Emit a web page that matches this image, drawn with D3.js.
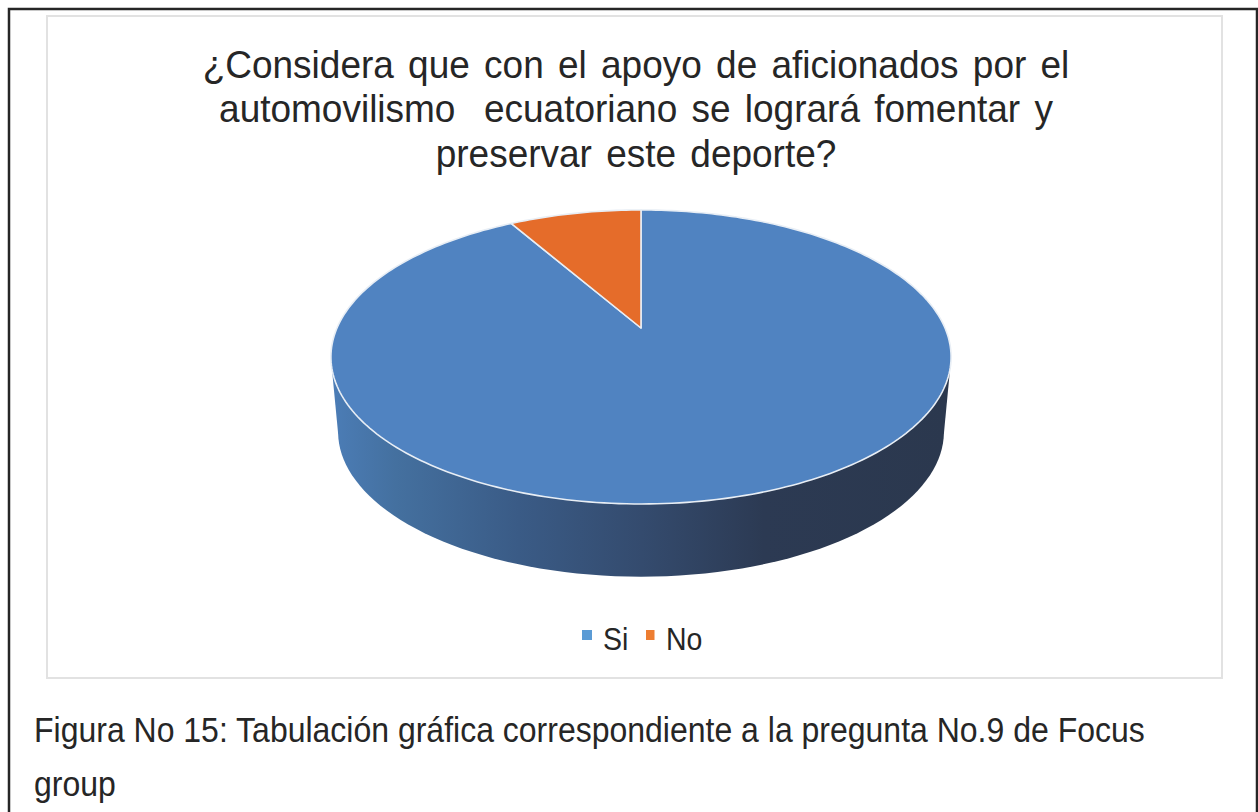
<!DOCTYPE html>
<html lang="es">
<head>
<meta charset="utf-8">
<title>Figura No 15</title>
<script src="https://cdn.jsdelivr.net/npm/d3@7"></script>
<style>
  html, body { margin: 0; padding: 0; background: #fff; }
  svg { display: block; }
  text { font-family: "Liberation Sans", Arial, sans-serif; }
</style>
</head>
<body>
<svg id="chart" width="1258" height="812"></svg>
<script>
// Focus group answers
const categories = ["Si", "No"];
const answers = [11, 1];
const legendColors = ["#5B9BD5", "#ED7D31"];
const sliceColors = ["#5083C1", "#E56C2A"];
const titleLines = [
  "¿Considera que con el apoyo de aficionados por el",
  "automovilismo  ecuatoriano se logrará fomentar y",
  "preservar este deporte?"
];
const captionLines = [
  "Figura No 15: Tabulación gráfica correspondiente a la pregunta No.9 de Focus",
  "group"
];
const sideStops = [
  [0, "#4B7CB5"], [0.1, "#44709F"], [0.3, "#3A5B86"], [0.5, "#344B6E"],
  [0.7, "#2C3A53"], [1, "#2B384E"]
];

const svg = d3.select("#chart");
const defs = svg.append("defs");

// Text on this sheet is slightly taller than wide
const tall = (x, y) => `translate(${x},${y}) scale(1,1.07)`;

// Sheet border and chart frame
svg.append("path").attr("d", "M9,812V9H1257V812").attr("fill", "none")
  .attr("stroke", "#262626").attr("stroke-width", 2.5);
svg.append("rect").attr("x", 47).attr("y", 16).attr("width", 1175).attr("height", 662)
  .attr("fill", "#fff").attr("stroke", "#E2E2E2").attr("stroke-width", 2);

// Title
svg.append("g").selectAll("text").data(titleLines).join("text")
  .attr("transform", (d, i) => tall(636, 77.5 + i * 44.7))
  .attr("text-anchor", "middle").attr("font-size", 37).attr("fill", "#262626")
  .attr("word-spacing", 4)
  .style("white-space", "pre").text(d => d);

// Perspective projection of the unit disc on the pie's top face
const persp = -0.197;
const project = (a, r, cx, cy, ax, ay) => {
  const X = r * Math.sin(a), Y = -r * Math.cos(a), w = 1 + persp * Y;
  return [cx + ax * X / w, cy + ay * Y / w];
};
const topFace = (a, r = 1) => project(a, r, 641, 328, 304, 141.3);
const baseFace = (a, r = 1) => project(a, r, 641, 403, 297, 139.5);

const pie = d3.pie().sort(null)(answers);
const line = d3.line();
const fullTurn = d3.range(0, 361, 2).map(d => d * Math.PI / 180);

// Extruded side with a left-to-right shading
const side = defs.append("linearGradient").attr("id", "side")
  .attr("gradientUnits", "userSpaceOnUse")
  .attr("x1", 335).attr("x2", 948).attr("y1", 0).attr("y2", 0);
side.selectAll("stop").data(sideStops).join("stop")
  .attr("offset", d => d[0]).attr("stop-color", d => d[1]);

const rim = fullTurn.map(a => topFace(a));
const rimBase = fullTurn.map(a => baseFace(a));
const extremes = pts => [d3.least(pts, p => p[0]), d3.greatest(pts, p => p[0])];
const [tl, tr] = extremes(rim), [bl, br] = extremes(rimBase);
svg.append("path").attr("d", line(rimBase) + "Z").attr("fill", "url(#side)");
svg.append("path").attr("d", line([tl, bl, br, tr]) + "Z").attr("fill", "url(#side)");

// Top face slices
const wedge = d => {
  const n = Math.max(2, Math.ceil((d.endAngle - d.startAngle) / 0.02));
  const arc = d3.range(n + 1).map(i => topFace(d.startAngle + (d.endAngle - d.startAngle) * i / n));
  return line([topFace(0, 0), ...arc]) + "Z";
};
svg.append("g").selectAll("path").data(pie).join("path")
  .attr("d", wedge)
  .attr("fill", (d, i) => sliceColors[i])
  .attr("stroke", "#E8EEF5").attr("stroke-width", 1.6).attr("stroke-linejoin", "round");

// Legend
const legend = svg.append("g");
const legendX = [[582, 10, 603], [646, 8.5, 666]];
categories.forEach((c, i) => {
  legend.append("rect").attr("x", legendX[i][0]).attr("y", 630)
    .attr("width", legendX[i][1]).attr("height", 10).attr("fill", legendColors[i]);
  legend.append("text").attr("transform", tall(legendX[i][2], 649.5))
    .attr("font-size", 28.5).attr("fill", "#262626").text(c);
});

// Caption
svg.append("g").selectAll("text").data(captionLines).join("text")
  .attr("transform", (d, i) => tall(34, 741.5 + i * 54))
  .attr("font-size", 32).attr("fill", "#262626").text(d => d);
</script>
</body>
</html>
